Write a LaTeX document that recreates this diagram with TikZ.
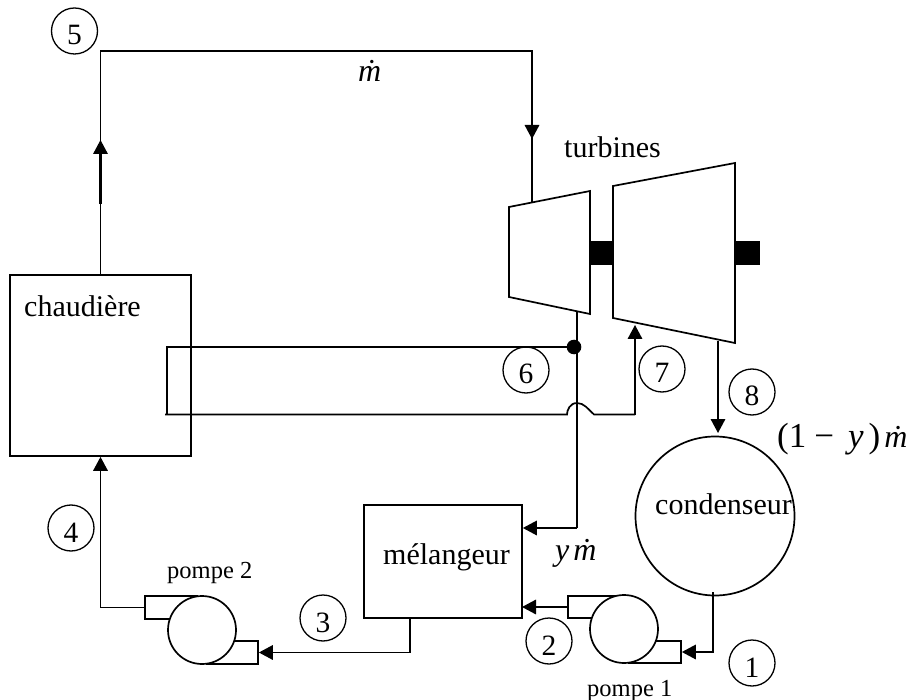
\documentclass[tikz,border=0pt]{standalone}
\usepackage{fontspec}
\setmainfont{Liberation Serif}
\usetikzlibrary{arrows.meta}
\tikzset{
  pipe/.style={line width=1.7pt,line join=miter},
  flow/.style={pipe,-{Triangle[length=14pt,width=14.5pt]}},
  box/.style={draw,line width=1.7pt,rectangle,inner sep=0pt},
  pumpbody/.style={draw,line width=1.7pt,circle,fill=white,inner sep=0pt,minimum size=68pt},
  pumpport/.style={box,fill=white},
  statenum/.style={draw,line width=1.3pt,circle,inner sep=0pt,minimum size=46pt,font=\fontsize{29.5}{30}\selectfont,text height=28pt,text depth=0pt},
  lbl/.style={inner sep=0pt,anchor=base west,font=\fontsize{30}{31}\selectfont},
  smalllbl/.style={inner sep=0pt,anchor=base west,font=\fontsize{24.5}{26}\selectfont},
  flowlbl/.style={inner sep=0pt,anchor=base west,font=\fontsize{32}{34}\selectfont},
  shaftblock/.style={fill=black,draw=none,rectangle,inner sep=0pt},
}
\begin{document}
\begin{tikzpicture}[x=1pt,y=-1pt]
\useasboundingbox (0,0) rectangle (910,700);
% equipment
\node[box,minimum width=181pt,minimum height=181pt] (chaudiere) at (100.5,365.5) {};
\node[box,minimum width=158pt,minimum height=113pt] (melangeur) at (443,561.5) {};
\node[draw,line width=1.7pt,circle,inner sep=0pt,minimum size=159pt] (condenseur) at (715,516) {};
\node[shaftblock,minimum width=23pt,minimum height=24pt] (shaftA) at (601.5,253) {};
\node[shaftblock,minimum width=25pt,minimum height=24pt] (shaftB) at (747.5,253) {};
% turbines
\draw[pipe] (509,207) -- (590,191) -- (590,314) -- (509,297) -- cycle;
\draw[pipe] (613,186) -- (735,163) -- (735,343) -- (613,318) -- cycle;
% pump 2
\node[pumpport,minimum width=52pt,minimum height=23pt] (p2in) at (171,607.5) {};
\node[pumpport,minimum width=51pt,minimum height=23pt] (p2out) at (232.5,652.5) {};
\node[pumpbody] (pompeB) at (202,630) {};
% pump 1
\node[pumpport,minimum width=51pt,minimum height=22pt] (p1out) at (593.5,607) {};
\node[pumpport,minimum width=52pt,minimum height=22pt] (p1in) at (655,652) {};
\node[pumpbody] (pompeA) at (624,629) {};
% junction coordinates
\coordinate (c5) at (100.5,51);
\coordinate (t1in) at (532,51);
\coordinate (t1top) at (532,203);
\coordinate (t1bot) at (577,311);
\coordinate (tee) at (577,528);
\coordinate (dotpt) at (574,347);
\coordinate (hA) at (167,347);
\coordinate (hB) at (165,414.5);
\coordinate (b1) at (567,414.5);
\coordinate (b2) at (594,414.5);
\coordinate (c7) at (635,414.5);
\coordinate (t2in) at (635,325);
\coordinate (t2out) at (718,341);
\coordinate (cin) at (718,433);
\coordinate (cout) at (713,592);
\coordinate (mout) at (410,618);
% mass-flow lines
\draw[pipe] (chaudiere.north) -- (c5) -- (t1in) -- (t1top);
\draw[flow] (chaudiere.north) -- (100.5,140);
\draw[flow] (t1in) -- (532,139);
\draw[line width=2.3pt] (chaudiere.north) ++(0,-70) -- ++(0,-50);
\draw[pipe] (t1bot) -- (tee);
\draw[flow] (tee) -- (melangeur.east |- tee);
\draw[pipe] (dotpt) -- (hA) -- (167,414.5);
\draw[pipe] (hB) -- (b1) .. controls (567,410) and (570,403) .. (577,403) .. controls (584,403) and (588,409) .. (b2) -- (c7);
\draw[flow] (c7) -- (t2in);
\fill (dotpt) circle (7.3pt);
\draw[flow] (t2out) -- (cin);
\draw[flow] (cout) |- (p1in.east);
\draw[flow] (p1out.west) -- (522,607);
\draw[flow] (mout) |- (p2out.east);
\draw[flow] (p2in.west) -| (chaudiere.south);
% state numbers
\node[statenum] (s1) at (752,663) {1};
\node[statenum] (s2) at (549,641) {2};
\node[statenum] (s3) at (323,618) {3};
\node[statenum] (s4) at (71,528) {4};
\node[statenum] (s5) at (74.5,31) {5};
\node[statenum] (s6) at (526,370) {6};
\node[statenum] (s7) at (662,369) {7};
\node[statenum] (s8) at (752,392) {8};
% labels
\node[lbl] (tchaud) at (24,317) {chaudière};
\node[lbl] (tmel) at (383,564) {mélangeur};
\node[lbl] (tcond) at (655,514) {condenseur};
\node[lbl] (tturb) at (564,158) {turbines};
\node[smalllbl] (tp2) at (167,578) {pompe 2};
\node[smalllbl] (tp1) at (587,696) {pompe 1};
\node[flowlbl] (tm) at (358,82) {\textit{ṁ}};
\node[flowlbl] (tym) at (555,560) {\textit{y}\kern4pt\textit{ṁ}};
\node[flowlbl,font=\fontsize{35}{37}\selectfont] (tbig) at (777,447) {(1\kern8pt−\kern14pt\textit{y}\kern5pt)\kern4pt\fontsize{32}{34}\selectfont\textit{ṁ}};
\end{tikzpicture}
\end{document}
